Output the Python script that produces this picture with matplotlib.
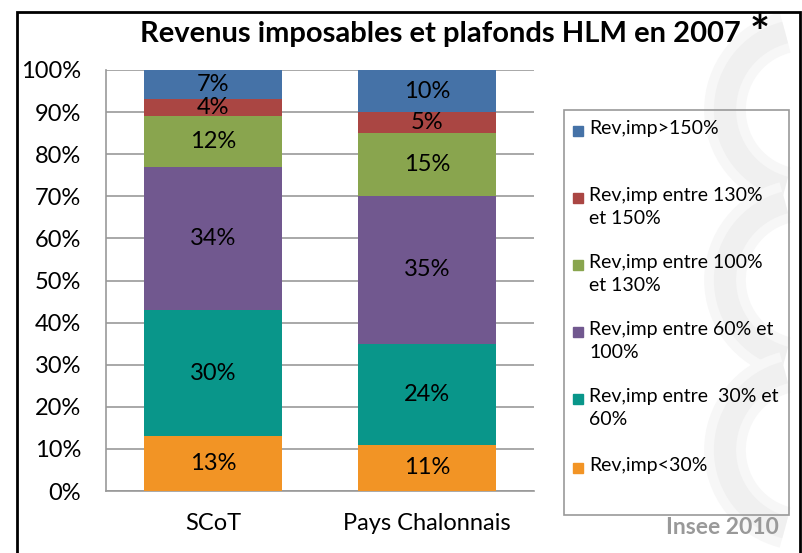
import numpy as np
import matplotlib
matplotlib.use("Agg")
import matplotlib.pyplot as plt
from matplotlib.patches import Rectangle, Arc

plt.rcParams['font.family'] = ['Lato', 'DejaVu Sans']

categories = ['SCoT', 'Pays Chalonnais']
# bottom to top
series_labels = ['Rev,imp<30%', 'Rev,imp entre  30% et\n60%', 'Rev,imp entre 60% et\n100%',
                 'Rev,imp entre 100%\net 130%', 'Rev,imp entre 130%\net 150%', 'Rev,imp>150%']
values = [
    [13, 11],
    [30, 24],
    [34, 35],
    [12, 15],
    [4, 5],
    [7, 10],
]
colors = ['#F29425', '#09968A', '#71588F', '#89A54E', '#AA4643', '#4572A7']

fig = plt.figure(figsize=(8.03, 5.53), dpi=100)

# faint watermark shapes in the background (right side)
for cy in [110, 280, 450]:
    for lw, c in [(30, '#f7f7f7'), (16, '#f0f0f0')]:
        fig.patches.append(Arc((805 / 803, 1 - cy / 553), 160 / 803, 160 / 553, theta1=100, theta2=260,
                               transform=fig.transFigure, color=c, lw=lw, zorder=0))

ax = fig.add_axes([106 / 803, 62 / 553, 428 / 803, 421 / 553])
ax.patch.set_alpha(0)

x = np.arange(len(categories))
bottom = np.zeros(len(categories))
for vals, col in zip(values, colors):
    vals = np.array(vals)
    ax.bar(x, vals, 0.645, bottom=bottom, color=col, zorder=3)
    for xi, b, v in zip(x, bottom, vals):
        ax.text(xi, b + v / 2, f'{v}%', ha='center', va='center', fontsize=17, color='black', zorder=4)
    bottom = bottom + vals

ax.set_xlim(-0.5, 1.5)
ax.set_ylim(0, 100)
ax.set_yticks(np.arange(0, 101, 10))
ax.set_yticklabels([f'{t}%' for t in range(0, 101, 10)])
ax.set_xticks(x)
ax.set_xticklabels(categories)
ax.tick_params(axis='both', length=0, labelsize=17)
ax.tick_params(axis='y', pad=18)
ax.tick_params(axis='x', pad=16)
ax.yaxis.grid(True, color='#999999', lw=1.2, zorder=0)
for s in ['top', 'right']:
    ax.spines[s].set_visible(False)
ax.spines['left'].set_color('#999999')
ax.spines['bottom'].set_color('#999999')
ax.spines['left'].set_linewidth(1.2)
ax.spines['bottom'].set_linewidth(1.2)

# title
fig.text(440 / 803, 1 - 34 / 553, 'Revenus imposables et plafonds HLM en 2007', ha='center', va='center',
         fontsize=21, fontweight='bold')
fig.text(760 / 803, 1 - 35 / 553, '*', ha='center', va='center', fontsize=34, fontweight='bold')

# frame
fig.patches.append(Rectangle((17 / 803, -0.1), 783 / 803, 1.1 - 12 / 553, transform=fig.transFigure,
                             fill=False, edgecolor='black', lw=2, zorder=10))

# legend
fig.patches.append(Rectangle((564 / 803, 1 - 515 / 553), 225 / 803, 405 / 553, transform=fig.transFigure,
                             fill=False, edgecolor='#999999', lw=1.2))
ys = [131, 198, 265, 332, 399, 468]
for lab, col, yy in zip(series_labels[::-1], colors[::-1], ys):
    fig.patches.append(Rectangle((573 / 803, 1 - (yy + 5) / 553), 10 / 803, 10 / 553, transform=fig.transFigure,
                                 color=col))
    fig.text(589 / 803, 1 - (yy - 11) / 553, lab, ha='left', va='top', fontsize=14, linespacing=1.45)

fig.text(779 / 803, 1 - 527 / 553, 'Insee 2010', ha='right', va='center', fontsize=16.5, fontweight='bold',
         color='#999999')

fig.savefig('out.png', dpi=100)
